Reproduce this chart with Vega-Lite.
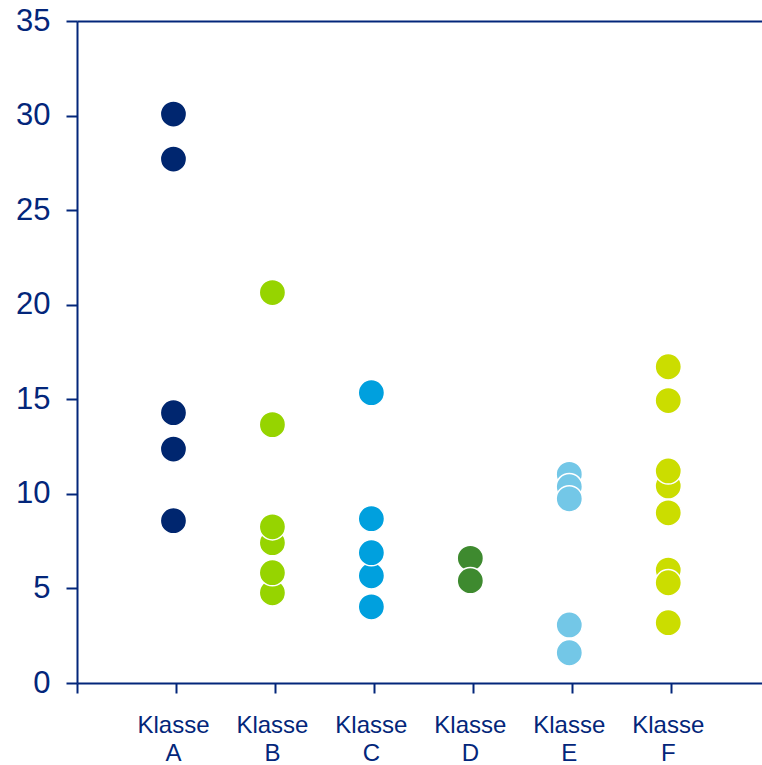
{
  "$schema": "https://vega.github.io/schema/vega-lite/v6.json",
  "autosize": {"type": "none"},
  "padding": {"left": 77, "top": 21, "right": 0, "bottom": 82},
  "width": 685,
  "height": 662,
  "background": "white",
  "config": {
    "font": "Liberation Sans",
    "view": {"stroke": null}
  },
  "data": {
    "values": [
      {"klasse": "Klasse A", "wert": 30.08},
      {"klasse": "Klasse A", "wert": 27.7},
      {"klasse": "Klasse A", "wert": 14.29},
      {"klasse": "Klasse A", "wert": 12.37},
      {"klasse": "Klasse A", "wert": 8.58},
      {"klasse": "Klasse B", "wert": 4.77},
      {"klasse": "Klasse B", "wert": 5.83},
      {"klasse": "Klasse B", "wert": 7.42},
      {"klasse": "Klasse B", "wert": 8.26},
      {"klasse": "Klasse B", "wert": 13.66},
      {"klasse": "Klasse B", "wert": 20.64},
      {"klasse": "Klasse C", "wert": 4.03},
      {"klasse": "Klasse C", "wert": 5.67},
      {"klasse": "Klasse C", "wert": 6.89},
      {"klasse": "Klasse C", "wert": 8.69},
      {"klasse": "Klasse C", "wert": 15.35},
      {"klasse": "Klasse D", "wert": 6.59},
      {"klasse": "Klasse D", "wert": 5.41},
      {"klasse": "Klasse E", "wert": 11.03},
      {"klasse": "Klasse E", "wert": 10.38},
      {"klasse": "Klasse E", "wert": 9.74},
      {"klasse": "Klasse E", "wert": 3.07},
      {"klasse": "Klasse E", "wert": 1.6},
      {"klasse": "Klasse F", "wert": 16.72},
      {"klasse": "Klasse F", "wert": 14.93},
      {"klasse": "Klasse F", "wert": 10.42},
      {"klasse": "Klasse F", "wert": 11.21},
      {"klasse": "Klasse F", "wert": 9.0},
      {"klasse": "Klasse F", "wert": 5.97},
      {"klasse": "Klasse F", "wert": 5.3},
      {"klasse": "Klasse F", "wert": 3.19}
    ]
  },
  "mark": {"type": "point", "shape": "circle", "filled": true, "size": 690, "stroke": "white", "strokeWidth": 1.5, "opacity": 1},
  "encoding": {
    "x": {
      "field": "klasse",
      "type": "nominal",
      "scale": {
        "type": "point",
        "domain": ["start", "Klasse A", "Klasse B", "Klasse C", "Klasse D", "Klasse E", "Klasse F", "end"],
        "range": [0, 692.7],
        "padding": 0
      },
      "axis": {
        "title": null,
        "labelExpr": "indexof(datum.label, 'Klasse') === 0 ? split(datum.label, ' ') : ''",
        "labelFontSize": 24,
        "labelLineHeight": 28,
        "labelColor": "#03267a",
        "labelPadding": 20,
        "labelOffset": -3,
        "labelAngle": 0,
        "domainColor": "#03267a",
        "domainWidth": 2,
        "tickColor": "#03267a",
        "tickWidth": 2,
        "tickSize": 10,
        "grid": false
      }
    },
    "xOffset": {"value": -2.5},
    "y": {
      "field": "wert",
      "type": "quantitative",
      "scale": {"domain": [0, 35], "nice": false, "zero": true},
      "axis": {
        "title": null,
        "values": [0, 5, 10, 15, 20, 25, 30, 35],
        "labelFontSize": 31,
        "labelColor": "#03267a",
        "labelPadding": 16,
        "domainColor": "#03267a",
        "domainWidth": 2,
        "tickColor": "#03267a",
        "tickWidth": 2,
        "tickSize": 11,
        "grid": true,
        "gridColor": "#03267a",
        "gridWidth": 2,
        "gridOpacity": {"condition": {"test": "datum.value === 35", "value": 1}, "value": 0}
      }
    },
    "color": {
      "field": "klasse",
      "type": "nominal",
      "scale": {
        "domain": ["Klasse A", "Klasse B", "Klasse C", "Klasse D", "Klasse E", "Klasse F"],
        "range": ["#00266f", "#96d400", "#00a0de", "#3e8a2f", "#73c7e7", "#cbdd00"]
      },
      "legend": null
    }
  }
}
